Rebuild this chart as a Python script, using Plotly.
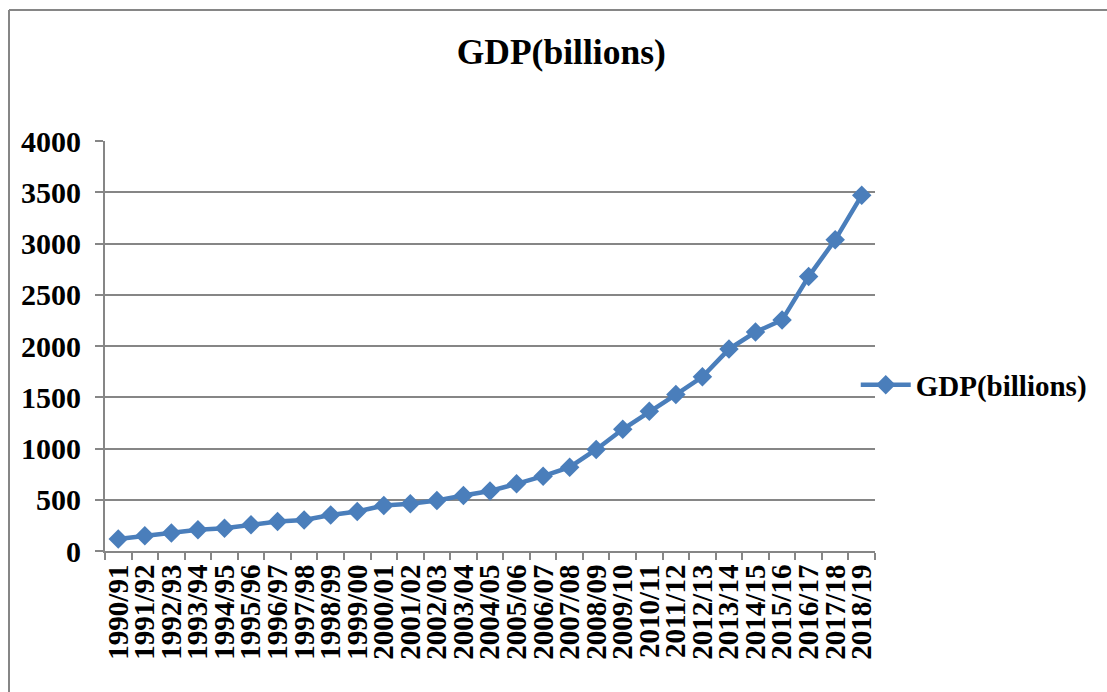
import plotly.graph_objects as go

years = ["1990/91", "1991/92", "1992/93", "1993/94", "1994/95", "1995/96", "1996/97",
         "1997/98", "1998/99", "1999/00", "2000/01", "2001/02", "2002/03", "2003/04",
         "2004/05", "2005/06", "2006/07", "2007/08", "2008/09", "2009/10", "2010/11",
         "2011/12", "2012/13", "2013/14", "2014/15", "2015/16", "2016/17", "2017/18",
         "2018/19"]
gdp = [117, 150, 176, 208, 221, 257, 287, 303, 352, 385, 443, 460, 492, 541,
       585, 655, 730, 818, 991, 1187, 1363, 1526, 1699, 1970, 2136, 2253, 2677,
       3036, 3470]
y_ticks = [0, 500, 1000, 1500, 2000, 2500, 3000, 3500, 4000]

FONT = "Liberation Serif, Times New Roman, serif"
BLUE = "#4A7EBB"
GRAY = "#868686"

fig = go.Figure()
fig.add_trace(go.Scatter(
    x=years, y=gdp, mode="lines+markers", name="<b>GDP(billions)</b>",
    line=dict(color=BLUE, width=4.5),
    marker=dict(symbol="diamond", size=15, color=BLUE),
))

fig.update_layout(
    width=1107, height=692,
    margin=dict(l=105, r=232, t=141, b=141),
    paper_bgcolor="white", plot_bgcolor="white",
    font=dict(family=FONT, color="black"),
    title=dict(text="<b>GDP(billions)</b>", font=dict(family=FONT, size=35.5, color="black"),
               x=0.507, xref="container", xanchor="center",
               y=1 - 52 / 692, yref="container", yanchor="middle"),
    showlegend=True,
    legend=dict(x=0.975, xanchor="left", y=0.405, yanchor="middle",
                font=dict(family=FONT, size=29, color="black"),
                bgcolor="rgba(0,0,0,0)", itemwidth=50),
    xaxis=dict(
        type="category", range=[-0.5, 28.5], tickson="boundaries",
        tickmode="array", tickvals=years, ticktext=[f"<b>{y}</b>" for y in years],
        showline=True, linecolor=GRAY, linewidth=2,
        ticks="outside", ticklen=7, tickcolor=GRAY, tickwidth=1.5,
        showgrid=False, tickangle=-90,
        tickfont=dict(family=FONT, size=29, color="black"),
    ),
    yaxis=dict(
        range=[0, 4000], tickmode="array", tickvals=y_ticks,
        ticktext=[f"<b>{v}</b>" for v in y_ticks],
        showline=True, linecolor=GRAY, linewidth=2,
        ticks="outside", ticklen=8, tickcolor=GRAY, tickwidth=1.5,
        ticklabelstandoff=8,
        showgrid=True, gridcolor=GRAY, gridwidth=1.5, zeroline=False,
        tickfont=dict(family=FONT, size=30, color="black"),
    ),
    shapes=[
        dict(type="line", xref="paper", yref="paper",
             x0=(9 - 105) / 770, x1=(9 - 105) / 770, y0=(551 - 10) / 410, y1=-0.6,
             line=dict(color=GRAY, width=2)),
        dict(type="line", xref="paper", yref="paper",
             x0=(9 - 105) / 770, x1=1.5, y0=(551 - 10) / 410, y1=(551 - 10) / 410,
             line=dict(color=GRAY, width=2)),
    ],
)

fig.write_html("out.html")
